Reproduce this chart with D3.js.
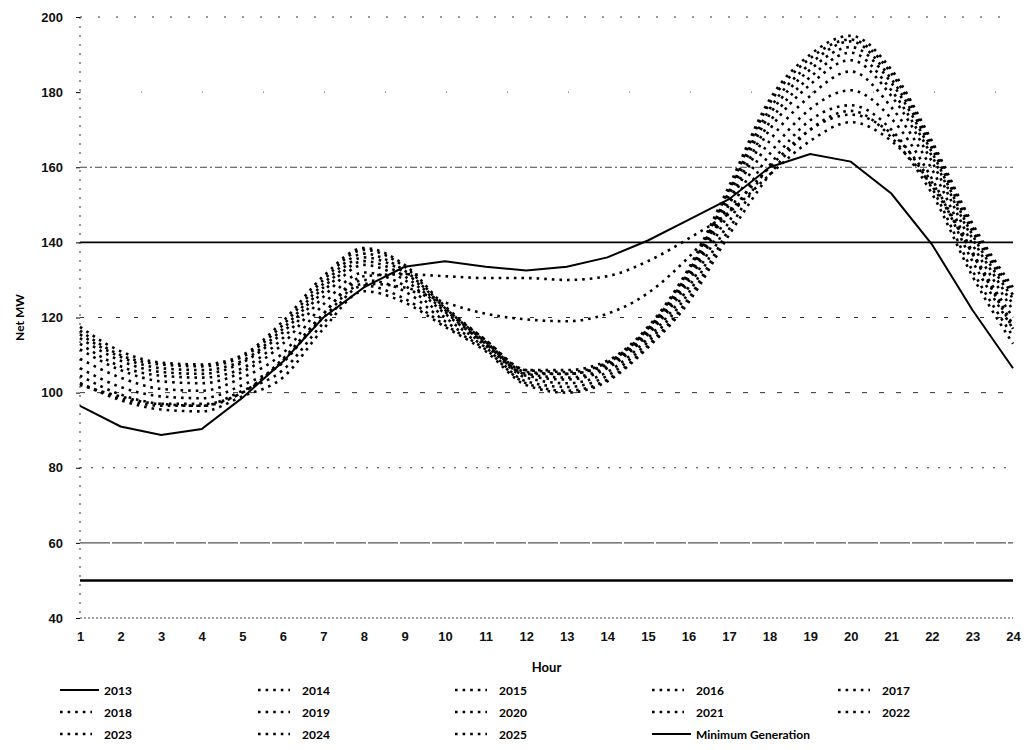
<!DOCTYPE html>
<html>
<head>
<meta charset="utf-8">
<script src="https://cdn.jsdelivr.net/npm/d3@7"></script>
<style>
  body { margin: 0; background: #fff; }
  svg { display: block; font-family: Lato, "Open Sans", sans-serif; }
</style>
</head>
<body>
<svg id="chart" width="1031" height="750"></svg>
<script>
// hours on the x axis
const hours = d3.range(1, 25);
const yTicks = [40, 60, 80, 100, 120, 140, 160, 180, 200];
const minGeneration = 50;

const s2013 = [96.5, 91, 88.7, 90.3, 98.6, 108.2, 120, 128, 133.5, 135, 133.5, 132.5, 133.5, 136, 140.5, 146, 151.5, 160, 163.5, 161.5, 153, 139.5, 122, 106.5];
const s2014 = [102, 99, 97, 97, 100, 109, 121, 131, 131.5, 131, 130.5, 130.5, 130, 131, 135, 141, 148, 158, 167, 172, 167, 155, 137, 118];
const s2015 = [102.5, 98.5, 96.5, 96.5, 100, 108.5, 120, 129, 128, 124, 121, 119.5, 119, 121, 126.5, 136, 148, 160, 170, 174, 169, 156, 137, 117];
const s2016 = [102.5, 98, 95.5, 95, 99, 104, 117, 127, 124, 117.5, 111, 102, 100, 103, 112, 124, 142, 158, 170, 175, 168, 153, 131, 113];
const s2017 = [104.5, 99.5, 97, 96.5, 100.5, 106, 118.5, 128.5, 125, 118, 111.5, 102.5, 100.5, 103.5, 112.5, 125, 143.5, 160.5, 172.5, 176.5, 170, 154.5, 132.5, 115];
const s2018 = [106.5, 101.5, 99, 98.5, 102, 108, 121, 130, 127, 119, 112, 103, 101.5, 104.5, 113.5, 126.5, 145.5, 163.5, 175.5, 180.5, 173, 157, 135, 117];
const s2019 = [109, 104, 101, 100.5, 104, 110.5, 123.5, 132, 128.5, 120, 112.5, 104, 102.5, 105.5, 114.5, 128, 148, 167, 179, 185.5, 176, 159.5, 137.5, 120];
const s2020 = [111.5, 106, 103, 102.5, 105.5, 113, 125.5, 134, 130, 121, 113, 104.5, 103.5, 106.5, 115.5, 129.5, 150, 170, 182, 188.5, 179, 161.5, 139.5, 122];
const s2021 = [113, 107, 104.5, 104, 106.5, 114.5, 127, 135, 131, 121.5, 113, 105, 104, 107, 116, 130.5, 151, 172, 184, 190.5, 180.5, 163, 141, 123.5];
const s2022 = [114.5, 108.5, 105.5, 105, 108, 116, 128, 136, 132, 122, 113.5, 105, 105, 107.5, 116.5, 131, 152.5, 174, 186, 192, 182.5, 164, 142, 125];
const s2023 = [115.5, 109.5, 106.5, 106, 108.5, 117, 129, 137, 132.5, 122.5, 113.5, 105.5, 105, 108, 117, 132, 153.5, 175.5, 187.5, 193.5, 183.5, 165, 143, 126];
const s2024 = [116.5, 110, 107.5, 107, 109.5, 118, 130, 138, 133.5, 122.5, 114, 106, 105.5, 108, 117, 132.5, 154, 177, 189, 194, 185, 166, 144, 127];
const s2025 = [117.5, 111, 108, 107.5, 110, 119, 131, 138.5, 134, 123, 114, 106, 106, 108.5, 117.5, 133, 155, 178, 190, 195, 186, 167, 145, 128];

const series = [
  { name: "2013", values: s2013, solid: true },
  { name: "2014", values: s2014 },
  { name: "2015", values: s2015 },
  { name: "2016", values: s2016 },
  { name: "2017", values: s2017 },
  { name: "2018", values: s2018 },
  { name: "2019", values: s2019 },
  { name: "2020", values: s2020 },
  { name: "2021", values: s2021 },
  { name: "2022", values: s2022 },
  { name: "2023", values: s2023 },
  { name: "2024", values: s2024 },
  { name: "2025", values: s2025 }
];

const svg = d3.select('#chart');
const margin = { left: 80, right: 18, top: 17, bottom: 132 };
const W = 1031, H = 750;

const x = d3.scaleLinear().domain([1, 24]).range([margin.left, W - margin.right]);
const y = d3.scaleLinear().domain([40, 200]).range([H - margin.bottom, margin.top]);

// gridlines, each one looks a bit different in the scan
const gridStyle = {
  200: { dash: "2,16", color: "#333", w: 1.2 },
  180: { dash: "1,60", color: "#555", w: 1 },
  160: { dash: "7,3,2,3", color: "#444", w: 1 },
  140: { dash: null, color: "#000", w: 1.6 },
  120: { dash: "4,14", color: "#333", w: 1 },
  100: { dash: "5,12", color: "#333", w: 1 },
  80: { dash: "2,9", color: "#333", w: 1.2 },
  60: { dash: "30,2", color: "#555", w: 1.1 },
  40: { dash: "2,2", color: "#444", w: 1 }
};

svg.append('g').selectAll('line')
  .data(yTicks)
  .enter().append('line')
  .attr('x1', margin.left)
  .attr('x2', W - margin.right)
  .attr('y1', d => y(d))
  .attr('y2', d => y(d))
  .attr('stroke', d => gridStyle[d].color)
  .attr('stroke-width', d => gridStyle[d].w)
  .attr('stroke-dasharray', d => gridStyle[d].dash);

// y axis line (dotted in the original)
svg.append('line')
  .attr('x1', margin.left).attr('x2', margin.left)
  .attr('y1', y(200)).attr('y2', y(40))
  .attr('stroke', '#333')
  .attr('stroke-width', 1)
  .attr('stroke-dasharray', '2,7');

const yAxis = d3.axisLeft(y).tickValues(yTicks).tickSize(4).tickPadding(13);
const gy = svg.append('g').attr('transform', `translate(${margin.left},0)`).call(yAxis);
gy.select('.domain').remove();
gy.selectAll('text').style('font-size', '13px').style('font-weight', 'bold').attr('fill', '#111');

const xAxis = d3.axisBottom(x).tickValues(hours).tickFormat(d3.format('d')).tickSize(0).tickPadding(14);
const gx = svg.append('g').attr('transform', `translate(0,${y(40)})`).call(xAxis);
gx.select('.domain').remove();
gx.selectAll('text').style('font-size', '13px').style('font-weight', 'bold').attr('fill', '#111');

svg.append('text')
  .attr('x', (margin.left + W - margin.right) / 2)
  .attr('y', 672)
  .attr('text-anchor', 'middle')
  .style('font-size', '13px').style('font-weight', 'bold')
  .text('Hour');

svg.append('text')
  .attr('transform', `translate(24,${(y(200) + y(40)) / 2}) rotate(-90)`)
  .attr('text-anchor', 'middle')
  .style('font-size', '12px').style('font-weight', 'bold')
  .text('Net MW');

// minimum generation
svg.append('line')
  .attr('x1', x(1)).attr('x2', x(24))
  .attr('y1', y(minGeneration)).attr('y2', y(minGeneration))
  .attr('stroke', '#000').attr('stroke-width', 2.4);

const lineSolid = d3.line().x((d, i) => x(hours[i])).y(d => y(d));
const lineSmooth = d3.line().x((d, i) => x(hours[i])).y(d => y(d)).curve(d3.curveMonotoneX);

svg.append('g').selectAll('path')
  .data(series.slice().reverse())
  .enter().append('path')
  .attr('d', d => d.solid ? lineSolid(d.values) : lineSmooth(d.values))
  .attr('fill', 'none')
  .attr('stroke', '#000')
  .attr('stroke-width', d => d.solid ? 2 : 2.6)
  .attr('stroke-dasharray', d => d.solid ? null : '2.6,5');

// legend
const legendItems = series.map(d => ({ name: d.name, solid: !!d.solid }));
legendItems.push({ name: 'Minimum Generation', solid: true });
const colX = [60, 258, 455, 652, 838];
const rowY = [690, 712, 734];

const leg = svg.append('g').selectAll('g')
  .data(legendItems)
  .enter().append('g')
  .attr('transform', (d, i) => `translate(${colX[i % 5]},${rowY[Math.floor(i / 5)]})`);

leg.append('line')
  .attr('x1', 0).attr('x2', d => d.solid ? 39 : 32)
  .attr('y1', 0).attr('y2', 0)
  .attr('stroke', '#000')
  .attr('stroke-width', d => d.solid ? 2 : 2.6)
  .attr('stroke-dasharray', d => d.solid ? null : '2.6,5');

leg.append('text')
  .attr('x', d => d.solid ? 44 : 44)
  .attr('y', 4.5)
  .style('font-size', '12px').style('font-weight', 'bold')
  .text(d => d.name);
</script>
</body>
</html>
